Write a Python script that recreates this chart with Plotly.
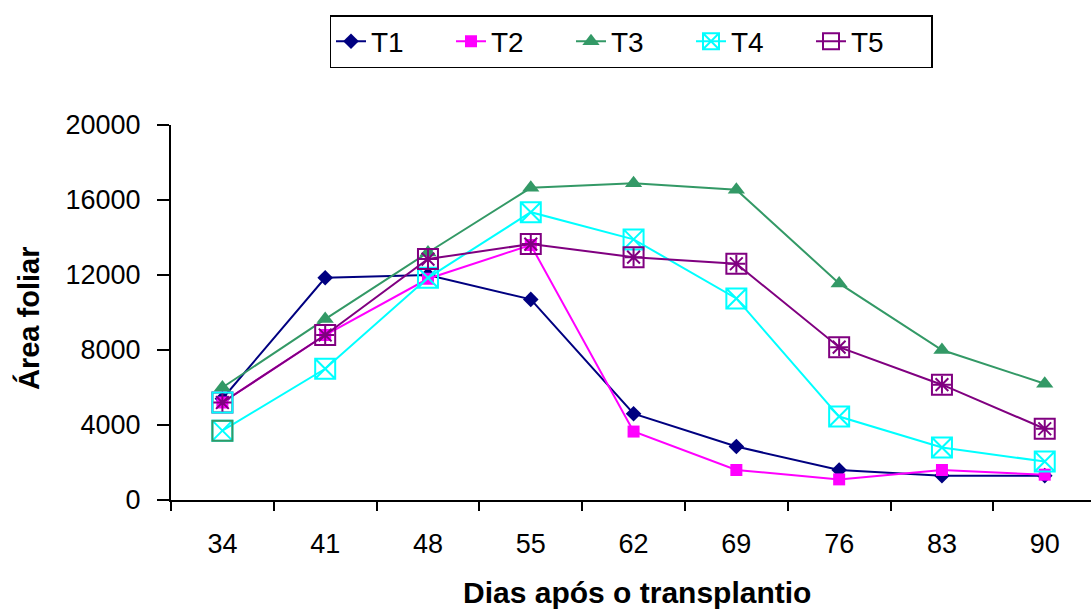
import plotly.graph_objects as go

days = ["34", "41", "48", "55", "62", "69", "76", "83", "90"]
t1 = [5400, 11850, 12000, 10700, 4600, 2850, 1600, 1300, 1300]
t2 = [5200, 8800, 11800, 13600, 3650, 1600, 1100, 1600, 1350]
t3 = [6000, 9650, 13200, 16650, 16900, 16550, 11550, 8000, 6200]
t4 = [3700, 7000, 11850, 15350, 13900, 10750, 4450, 2800, 2050]
t5 = [5200, 8800, 12850, 13650, 12950, 12600, 8150, 6150, 3800]
y_ticks = [0, 4000, 8000, 12000, 16000, 20000]

C1, C2, C3, C4, C5 = "#000080", "#FF00FF", "#339966", "#00FFFF", "#800080"
FONT = "Liberation Sans, Arial, sans-serif"

fig = go.Figure()
fig.add_trace(go.Scatter(x=days, y=t1, name="T1", mode="lines+markers",
                         line=dict(color=C1, width=2),
                         marker=dict(symbol="diamond", size=12, color=C1)))
fig.add_trace(go.Scatter(x=days, y=t2, name="T2", mode="lines+markers",
                         line=dict(color=C2, width=2),
                         marker=dict(symbol="square", size=12, color=C2)))
fig.add_trace(go.Scatter(x=days, y=t3, name="T3", mode="lines+markers",
                         line=dict(color=C3, width=2),
                         marker=dict(symbol="triangle-up", size=15, color=C3)))
fig.add_trace(go.Scatter(x=days, y=t4, name="T4", mode="lines+markers",
                         line=dict(color=C4, width=2),
                         marker=dict(symbol="square-x-open", size=20, color=C4,
                                     line=dict(width=2, color=C4))))
# first T4 marker drawn with a green frame as in the original
fig.add_trace(go.Scatter(x=days[:1], y=t4[:1], mode="markers", showlegend=False,
                         marker=dict(symbol="square-open", size=20, color=C3,
                                     line=dict(width=2, color=C3))))
fig.add_trace(go.Scatter(x=days, y=t5, name="T5", mode="lines+markers",
                         line=dict(color=C5, width=2),
                         marker=dict(symbol="square-open", size=20, color=C5,
                                     line=dict(width=2, color=C5))))
# first T5 marker drawn with a cyan frame as in the original
fig.add_trace(go.Scatter(x=days[:1], y=t5[:1], mode="markers", showlegend=False,
                         marker=dict(symbol="square-open", size=20, color=C4,
                                     line=dict(width=2, color=C4))))
fig.add_trace(go.Scatter(x=days, y=t5, mode="markers", showlegend=False,
                         marker=dict(symbol="asterisk-open", size=15, color=C5,
                                     line=dict(width=2, color=C5))))

fig.update_layout(
    width=1091, height=612,
    margin=dict(l=171, r=0, t=125, b=112),
    paper_bgcolor="white", plot_bgcolor="white",
    font=dict(family=FONT, size=27, color="black"),
    showlegend=True,
    legend=dict(
        orientation="h",
        xref="container", yref="container",
        x=631 / 1091, xanchor="center",
        y=1 - 15 / 612, yanchor="top",
        bordercolor="black", borderwidth=1.5,
        font=dict(family=FONT, size=28, color="black"),
        entrywidth=75, entrywidthmode="pixels",
        traceorder="normal",
    ),
    xaxis=dict(
        type="category", range=[-0.5, 8.45],
        tickson="boundaries", ticks="outside", ticklen=9, tickwidth=2,
        tickcolor="black", showline=True, linecolor="black", linewidth=2,
        showgrid=False, zeroline=False, ticklabelstandoff=19,
        tickfont=dict(family=FONT, size=27, color="black"),
    ),
    yaxis=dict(
        range=[0, 20000], tickmode="array", tickvals=y_ticks,
        ticktext=[str(v) for v in y_ticks],
        ticks="outside", ticklen=12, tickwidth=2, tickcolor="black",
        showline=True, linecolor="black", linewidth=2,
        showgrid=False, zeroline=False, ticklabelstandoff=11,
        tickfont=dict(family=FONT, size=27, color="black"),
    ),
    annotations=[
        dict(text="<b>Dias após o transplantio</b>", xref="paper", yref="paper",
             x=(637 - 171) / 920, y=(500 - 592) / 375, showarrow=False,
             xanchor="center", yanchor="middle",
             font=dict(family=FONT, size=30, color="black")),
        dict(text="<b>Área foliar</b>", xref="paper", yref="paper",
             x=(28 - 171) / 920, y=(500 - 319) / 375, showarrow=False,
             textangle=-90, xanchor="center", yanchor="middle",
             font=dict(family=FONT, size=29, color="black")),
    ],
)

fig.write_html("out.html")
